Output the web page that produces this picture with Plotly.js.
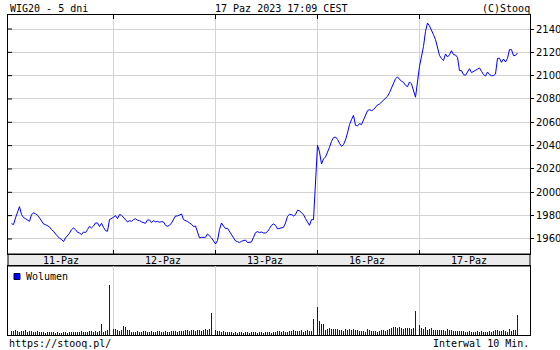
<!DOCTYPE html>
<html>
<head>
<meta charset="utf-8">
<script src="https://cdn.plot.ly/plotly-3.0.1.min.js"></script>
<style>html,body{margin:0;padding:0;background:#fff;}#chart{width:560px;height:350px;}</style>
</head>
<body>
<div id="chart"></div>
<script>
// ---- data ----
const dayLabels = ['11-Paz', '12-Paz', '13-Paz', '16-Paz', '17-Paz'];

const price11 = [1973.1, 1972.3, 1978, 1982.3, 1987.7, 1980.9, 1978.3, 1977.4, 1976.3, 1975.1,
  1980.9, 1982.3, 1981.7, 1980.3, 1978, 1975.1, 1972.9, 1972.3, 1971.1, 1970.3,
  1968, 1966.6, 1964.3, 1962, 1960.6, 1959.7, 1957.7, 1960.9, 1962.6, 1964.9,
  1968, 1969.4, 1968, 1965.7, 1965.1, 1963.7, 1966, 1965.4, 1968, 1970.9,
  1969.4, 1971.1, 1973.7, 1973.7, 1970.6, 1973.4, 1970, 1967.1, 1966.6, 1976.6];
const price12 = [1978.6, 1980, 1977.4, 1980.9, 1980.3, 1978.6, 1976, 1974.6, 1975.7, 1975.1,
  1976.6, 1977.4, 1976, 1975.7, 1974.6, 1974, 1973.4, 1976.3, 1976.3, 1974,
  1975.7, 1974.6, 1975.1, 1974.3, 1974.9, 1974.6, 1971.7, 1970.9, 1971.7, 1973.7,
  1977.1, 1979.7, 1979.7, 1980.6, 1981.4, 1976.6, 1976, 1974.9, 1973.7, 1972.6,
  1970.6, 1971.1, 1966, 1960.9, 1961.4, 1961.4, 1961.4, 1964.3, 1962.6, 1960.9];
const price13 = [1955.7, 1958.6, 1968, 1973.7, 1971.1, 1968.9, 1969.1, 1966.6, 1963.7, 1960.9,
  1958.3, 1957.7, 1956.9, 1958, 1958.9, 1959.1, 1956.9, 1957.4, 1957.4, 1961.4,
  1965.4, 1966.3, 1965.4, 1966, 1965.1, 1965.1, 1966.3, 1968.9, 1971.7, 1972.9,
  1971.7, 1968.6, 1969.1, 1969.4, 1970, 1973.7, 1979.4, 1981.1, 1980.9, 1979.7,
  1980.9, 1984.6, 1984.3, 1982.3, 1980.9, 1977.4, 1974, 1971.7, 1976.6, 1976.6];
const price16 = [2040.3, 2034.6, 2024.3, 2028.6, 2030.3, 2034, 2038.6, 2043.7, 2046.9, 2047.4,
  2045.4, 2042, 2039.4, 2040.9, 2044.9, 2050.9, 2058, 2062.3, 2066, 2057.4,
  2056.9, 2058.9, 2058, 2062, 2066, 2070, 2070.9, 2070, 2070.9, 2073.1,
  2074.9, 2075.7, 2077.4, 2078.9, 2080.9, 2082.3, 2085.4, 2089.4, 2093.4, 2097.4,
  2098.9, 2097.1, 2095.1, 2094.3, 2091.7, 2090.6, 2094.6, 2092.9, 2087.5, 2081.5];
const price17 = [2108, 2115.7, 2125.1, 2138, 2145.1, 2142.6, 2139.4, 2135.1, 2130.9, 2123.7,
  2117.4, 2114.6, 2112.9, 2118.6, 2116, 2118, 2121.4, 2118, 2117.7, 2115.7,
  2104.3, 2104.3, 2100.9, 2100.3, 2103.1, 2106, 2102.6, 2103.7, 2104.6, 2106,
  2106.6, 2103.7, 2100.9, 2099.7, 2103.1, 2100.9, 2100, 2100, 2101.4, 2114.9,
  2114.9, 2111.4, 2114.3, 2111.7, 2114.9, 2122.3, 2122.3, 2117.1, 2117.4, 2119.4];

const vol11 = [4, 4, 5, 4, 3, 4, 4, 5, 3, 4, 4, 3, 3, 4, 3, 3, 3, 2, 3, 3,
  3, 3, 2, 3, 2, 2, 3, 3, 2, 3, 3, 3, 3, 3, 3, 4, 3, 3, 3, 4,
  4, 3, 4, 3, 4, 11, 3, 4, 5, 50];
const vol12 = [6, 6, 5, 4, 5, 9, 8, 5, 5, 3, 3, 3, 4, 3, 3, 4, 4, 3, 3, 4,
  3, 3, 4, 4, 3, 3, 4, 3, 3, 4, 4, 4, 3, 4, 4, 4, 5, 5, 4, 5,
  5, 4, 5, 5, 4, 5, 6, 5, 6, 22];
const vol13 = [5, 4, 4, 3, 4, 3, 3, 3, 3, 2, 3, 2, 3, 3, 2, 3, 3, 2, 3, 3,
  3, 2, 3, 3, 2, 3, 3, 3, 2, 3, 3, 4, 4, 3, 4, 3, 3, 4, 4, 5,
  4, 4, 4, 5, 3, 4, 5, 4, 4, 16];
const vol16 = [28, 14, 11, 11, 5, 6, 7, 6, 6, 6, 6, 5, 5, 4, 6, 5, 6, 5, 6, 5,
  5, 4, 4, 4, 3, 6, 5, 4, 4, 4, 3, 4, 5, 5, 4, 5, 6, 7, 8, 8,
  7, 8, 7, 6, 7, 7, 7, 6, 7, 24];
const vol17 = [10, 7, 6, 8, 5, 6, 7, 5, 5, 5, 5, 5, 5, 4, 6, 5, 5, 4, 4, 4,
  4, 4, 4, 3, 3, 4, 3, 3, 3, 4, 3, 4, 3, 3, 3, 4, 3, 4, 5, 5,
  4, 4, 5, 4, 3, 6, 4, 5, 5, 20];

const yTicks = [1960, 1980, 2000, 2020, 2040, 2060, 2080, 2100, 2120, 2140];

// ---- build ----
const SLOTS = 51;
const prices = [price11, price12, price13, price16, price17];
const vols = [vol11, vol12, vol13, vol16, vol17];
const xs = [], ps = [], vs = [];
prices.forEach((arr, d) => arr.forEach((v, s) => { xs.push(d * SLOTS + s); ps.push(v); vs.push(vols[d][s]); }));
const dayBounds = [1, 2, 3, 4].map(d => d * SLOTS);
const dayCenters = dayLabels.map((_, d) => d * SLOTS + 24.5);

const W = 560, H = 350;
const px = v => v / W, py = v => 1 - v / H;
const X0 = 8, X1 = 530;
const xRange = [-1.75, 259.25];
const mono = 'DejaVu Sans Mono';

const traces = [
  {x: xs, y: ps, type: 'scatter', mode: 'lines', line: {color: '#0000ff', width: 1}, xaxis: 'x', yaxis: 'y', hoverinfo: 'skip'},
  {x: xs, y: vs, type: 'bar', marker: {color: '#0000ff', line: {width: 0}}, width: 0.6, xaxis: 'x2', yaxis: 'y2', hoverinfo: 'skip'}
];

const shapes = [
  {type: 'rect', xref: 'paper', yref: 'paper', x0: px(X0), x1: px(X1), y0: py(266), y1: py(254), fillcolor: '#ebebeb', line: {color: '#000', width: 1}, layer: 'below'},
  {type: 'rect', xref: 'paper', yref: 'paper', x0: px(14), x1: px(20), y0: py(279.5), y1: py(273.5), fillcolor: '#0000ff', line: {color: '#000040', width: 1}}
];
yTicks.forEach(v => shapes.push({type: 'line', xref: 'paper', yref: 'y', x0: px(X0), x1: px(X0 + 4), y0: v, y1: v, line: {color: '#000', width: 1}}));

const annotations = [
  {text: 'WIG20 - 5 dni', xref: 'paper', yref: 'paper', x: px(8), y: py(8), xanchor: 'left', yanchor: 'middle', showarrow: false, font: {family: mono, size: 10, color: '#000'}},
  {text: '17 Paz 2023 17:09 CEST', xref: 'paper', yref: 'paper', x: px(280.5), y: py(8), xanchor: 'center', yanchor: 'middle', showarrow: false, font: {family: mono, size: 10, color: '#000'}},
  {text: '(C)Stooq', xref: 'paper', yref: 'paper', x: px(532), y: py(8), xanchor: 'right', yanchor: 'middle', showarrow: false, font: {family: mono, size: 10, color: '#000'}},
  {text: 'https://stooq.pl/', xref: 'paper', yref: 'paper', x: px(7), y: py(343), xanchor: 'left', yanchor: 'middle', showarrow: false, font: {family: mono, size: 10, color: '#000'}},
  {text: 'Interwal 10 Min.', xref: 'paper', yref: 'paper', x: px(531), y: py(343), xanchor: 'right', yanchor: 'middle', showarrow: false, font: {family: mono, size: 10, color: '#000'}},
  {text: 'Wolumen', xref: 'paper', yref: 'paper', x: px(24), y: py(276.5), xanchor: 'left', yanchor: 'middle', showarrow: false, font: {family: mono, size: 10, color: '#000'}}
];
dayLabels.forEach((t, d) => annotations.push({text: t, xref: 'x', yref: 'paper', x: dayCenters[d], y: py(260), xanchor: 'center', yanchor: 'middle', showarrow: false, font: {family: mono, size: 10, color: '#000'}}));

const layout = {
  width: W, height: H,
  margin: {l: 0, r: 0, t: 0, b: 0, pad: 0},
  paper_bgcolor: '#fff', plot_bgcolor: '#fff',
  showlegend: false,
  xaxis: {domain: [px(X0), px(X1)], range: xRange, anchor: 'y', tickmode: 'array', tickvals: dayBounds, showticklabels: false,
    ticks: 'inside', ticklen: 4, tickcolor: '#000', showgrid: true, gridcolor: '#d3d3d3', gridwidth: 1,
    showline: true, linecolor: '#000', linewidth: 1, mirror: 'ticks', zeroline: false, fixedrange: true},
  yaxis: {domain: [py(254), py(15)], range: [1947.1, 2152], anchor: 'x', side: 'right', tickmode: 'array', tickvals: yTicks,
    ticks: 'outside', ticklen: 3, tickcolor: '#000', showgrid: true, gridcolor: '#d3d3d3', gridwidth: 1,
    showline: true, linecolor: '#000', linewidth: 1, mirror: true, zeroline: false,
    tickfont: {family: 'DejaVu Sans', size: 10, color: '#000'}, fixedrange: true},
  xaxis2: {domain: [px(X0), px(X1)], range: xRange, anchor: 'y2', tickmode: 'array', tickvals: dayBounds, showticklabels: false,
    ticks: '', showgrid: true, gridcolor: '#d3d3d3', gridwidth: 1, showline: true, linecolor: '#000', linewidth: 1, mirror: true, zeroline: false, fixedrange: true},
  yaxis2: {domain: [py(335), py(266)], range: [0, 69], anchor: 'x2', showticklabels: false, ticks: '', showgrid: false,
    showline: true, linecolor: '#000', linewidth: 1, mirror: true, zeroline: false, fixedrange: true},
  bargap: 0,
  shapes: shapes,
  annotations: annotations
};

Plotly.newPlot('chart', traces, layout, {staticPlot: true, displayModeBar: false});
</script>
</body>
</html>
